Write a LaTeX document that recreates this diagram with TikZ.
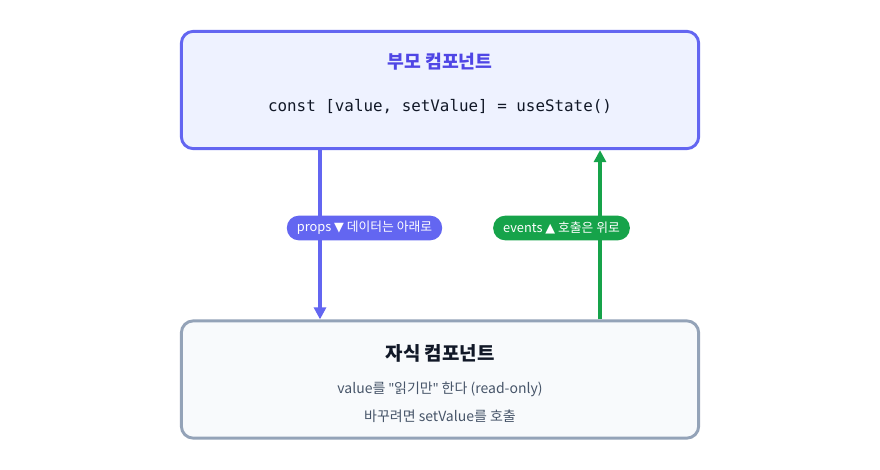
\documentclass[tikz,border=0pt]{standalone}
\usepackage{fontspec}
\setmainfont{Noto Sans CJK KR}
\setmonofont{DejaVu Sans Mono}
\newfontfamily\symfont{DejaVu Sans}
\newfontfamily\quotefont{Noto Sans}
\usetikzlibrary{arrows.meta}
\definecolor{indigo}{HTML}{6366F1}
\definecolor{indigodark}{HTML}{4F46E5}
\definecolor{indigofill}{HTML}{EEF2FF}
\definecolor{slateline}{HTML}{94A3B8}
\definecolor{slatefill}{HTML}{F8FAFC}
\definecolor{slatetext}{HTML}{475569}
\definecolor{darktext}{HTML}{111827}
\definecolor{evgreen}{HTML}{16A34A}
\newcommand{\dq}{{\quotefont\char"0022}}
\tikzstyle{compbox} = [rectangle, rounded corners=9pt, line width=2.2pt, minimum width=388pt, minimum height=88pt]
\tikzstyle{pill} = [rectangle, rounded corners=9pt, minimum height=18.5pt, inner xsep=7.5pt, text=white, font=\fontsize{9.6}{10}\selectfont]
\tikzstyle{arrow} = [line width=2.3pt, -{Triangle[length=9pt,width=9pt]}]

\begin{document}
\begin{tikzpicture}[x=0.75pt, y=-0.75pt]
  \useasboundingbox (0,0) rectangle (880,470);

  \node (parent) [compbox, draw=indigo, fill=indigofill] at (440,90) {};
  \node (ptitle) [text=indigodark, font=\fontsize{13.7}{16}\selectfont\bfseries] at (440,62) {부모 컴포넌트};
  \node (pcode) [text=darktext, font=\fontsize{11.9}{14}\selectfont\ttfamily] at (440,107) {const [value, setValue] = useState()};

  \node (child) [compbox, draw=slateline, fill=slatefill] at (440,379.5) {};
  \node (ctitle) [text=darktext, font=\fontsize{14.2}{16}\selectfont\bfseries] at (440,353) {자식 컴포넌트};
  \node (cline1) [text=slatetext, font=\fontsize{10.5}{12}\selectfont] at (440,389) {value를 \dq 읽기만\dq{} 한다 (read-only)};
  \node (cline2) [text=slatetext, font=\fontsize{10.5}{12}\selectfont] at (440,416) {바꾸려면 setValue를 호출};

  \coordinate (down) at (320,0);
  \coordinate (up) at (600,0);
  \draw [arrow, indigo] (parent.south -| down) -- (child.north -| down);
  \draw [arrow, evgreen] (child.north -| up) -- (parent.south -| up);

  \node (props) [pill, fill=indigo] at (364.5,228) {props {\symfont ▼} 데이터는 아래로};
  \node (events) [pill, fill=evgreen] at (561.5,228) {events {\symfont ▲} 호출은 위로};
\end{tikzpicture}
\end{document}
